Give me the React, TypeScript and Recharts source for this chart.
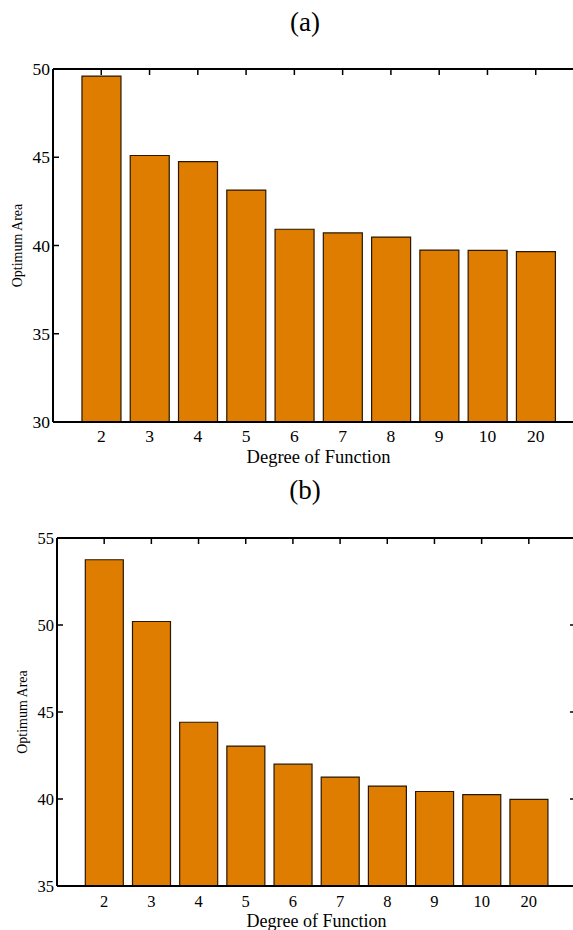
import { BarChart, Bar, XAxis, YAxis } from 'recharts';

const degrees = ['2', '3', '4', '5', '6', '7', '8', '9', '10', '20'];
const areaA = [49.6, 45.1, 44.75, 43.14, 40.92, 40.71, 40.48, 39.74, 39.72, 39.65];
const areaB = [53.75, 50.2, 44.41, 43.04, 42.0, 41.26, 40.74, 40.43, 40.25, 39.98];
const ticksA = [30, 35, 40, 45, 50];
const ticksB = [35, 40, 45, 50, 55];

const FONT = "'Liberation Serif', 'Times New Roman', serif";
const ORANGE = '#de7d00';
const TICK_LEN = 6;

type PanelProps = {
  values: number[];
  ticks: number[];
  top: number;
  plotLeft: number;
  plotTop: number;
  plotRight: number;
  plotBottom: number;
  tickFont: number;
  titleFont: number;
  tickGap: number;
  labelX: number;
  xTitleOffset: number;
};

function Panel(p: PanelProps) {
  const { values, ticks, top, plotLeft, plotTop, plotRight, plotBottom, tickFont, titleFont, tickGap, labelX, xTitleOffset } = p;
  const width = 620;
  const height = plotBottom - top + 60;
  const data = degrees.map((d, i) => ({ deg: d, v: values[i] }));
  const pad = (plotRight - plotLeft) / 22;
  const band = (plotRight - plotLeft) / 11;
  const lo = ticks[0];
  const hi = ticks[ticks.length - 1];
  const domain: [number, number] = [lo, hi];
  const yOf = (t: number) => plotBottom - top - ((t - lo) / (hi - lo)) * (plotBottom - plotTop);
  const pt = plotTop - top;
  return (
    <div style={{ position: 'absolute', left: 0, top, width, height }}>
      <BarChart
        width={width}
        height={height}
        data={data}
        barCategoryGap="10%"
        margin={{ top: plotTop - top - 1, right: width - plotRight - 1, bottom: 0, left: 0 }}
      >
        <XAxis
          dataKey="deg"
          padding={{ left: pad, right: pad }}
          height={60}
          tickLine={false}
          tickSize={0}
          tickMargin={tickGap}
          axisLine={{ stroke: '#000', strokeWidth: 2 }}
          tick={{ fill: '#000', fontSize: tickFont, fontFamily: FONT }}
          interval={0}
          label={{
            value: 'Degree of Function',
            position: 'insideBottom',
            offset: xTitleOffset,
            style: { fill: '#000', fontSize: titleFont, fontFamily: FONT },
          }}
        />
        <XAxis
          xAxisId="top"
          orientation="top"
          dataKey="deg"
          padding={{ left: pad, right: pad }}
          height={1}
          tick={false}
          tickLine={false}
          axisLine={{ stroke: '#000', strokeWidth: 2 }}
        />
        <YAxis
          domain={domain}
          ticks={ticks}
          width={plotLeft}
          tickSize={0}
          tickMargin={3}
          tickLine={false}
          allowDataOverflow
          axisLine={{ stroke: '#000', strokeWidth: 2 }}
          tick={{ fill: '#000', fontSize: tickFont, fontFamily: FONT }}
          label={{
            value: 'Optimum Area',
            angle: -90,
            position: 'insideLeft',
            offset: labelX,
            style: { textAnchor: 'middle', fill: '#000', fontSize: 14, fontFamily: FONT },
          }}
        />
        <YAxis
          yAxisId="right"
          orientation="right"
          domain={domain}
          ticks={ticks}
          width={1}
          tick={false}
          tickLine={false}
          allowDataOverflow
          axisLine={{ stroke: '#000', strokeWidth: 2 }}
        />
        <Bar dataKey="v" fill={ORANGE} stroke="#2a1800" strokeWidth={1.2} isAnimationActive={false} />
      </BarChart>
      {/* inward tick marks on the box, laid over the chart */}
      <svg
        width={width}
        height={height}
        style={{ position: 'absolute', left: 0, top: 0, pointerEvents: 'none' }}
      >
        {ticks.map((t) => (
          <g key={'y' + t}>
            <line x1={plotLeft} x2={plotLeft + TICK_LEN} y1={yOf(t)} y2={yOf(t)} stroke="#000" strokeWidth={1.5} />
            <line x1={plotRight - TICK_LEN} x2={plotRight} y1={yOf(t)} y2={yOf(t)} stroke="#000" strokeWidth={1.5} />
          </g>
        ))}
        {degrees.map((d, i) => (
          <line
            key={'x' + d}
            x1={plotLeft + band * (i + 1)}
            x2={plotLeft + band * (i + 1)}
            y1={pt}
            y2={pt + TICK_LEN}
            stroke="#000"
            strokeWidth={1.5}
          />
        ))}
      </svg>
    </div>
  );
}

export default function App() {
  return (
    <div
      style={{
        position: 'absolute',
        left: 0,
        top: 0,
        width: 573,
        height: 930,
        overflow: 'hidden',
        background: '#fff',
        fontFamily: FONT,
      }}
    >
      <div style={{ position: 'absolute', left: 255, width: 100, top: 6, textAlign: 'center', fontSize: 27, lineHeight: '32px' }}>
        (a)
      </div>
      <Panel
        values={areaA}
        ticks={ticksA}
        top={40}
        plotLeft={53}
        plotTop={69}
        plotRight={584}
        plotBottom={422}
        tickFont={17.5}
        titleFont={18.5}
        tickGap={8}
        labelX={17}
        xTitleOffset={19}
      />
      <div style={{ position: 'absolute', left: 255, width: 100, top: 474, textAlign: 'center', fontSize: 27, lineHeight: '32px' }}>
        (b)
      </div>
      <Panel
        values={areaB}
        ticks={ticksB}
        top={510}
        plotLeft={57}
        plotTop={538}
        plotRight={576}
        plotBottom={886}
        tickFont={16.5}
        titleFont={18}
        tickGap={9}
        labelX={22}
        xTitleOffset={19.5}
      />
    </div>
  );
}
